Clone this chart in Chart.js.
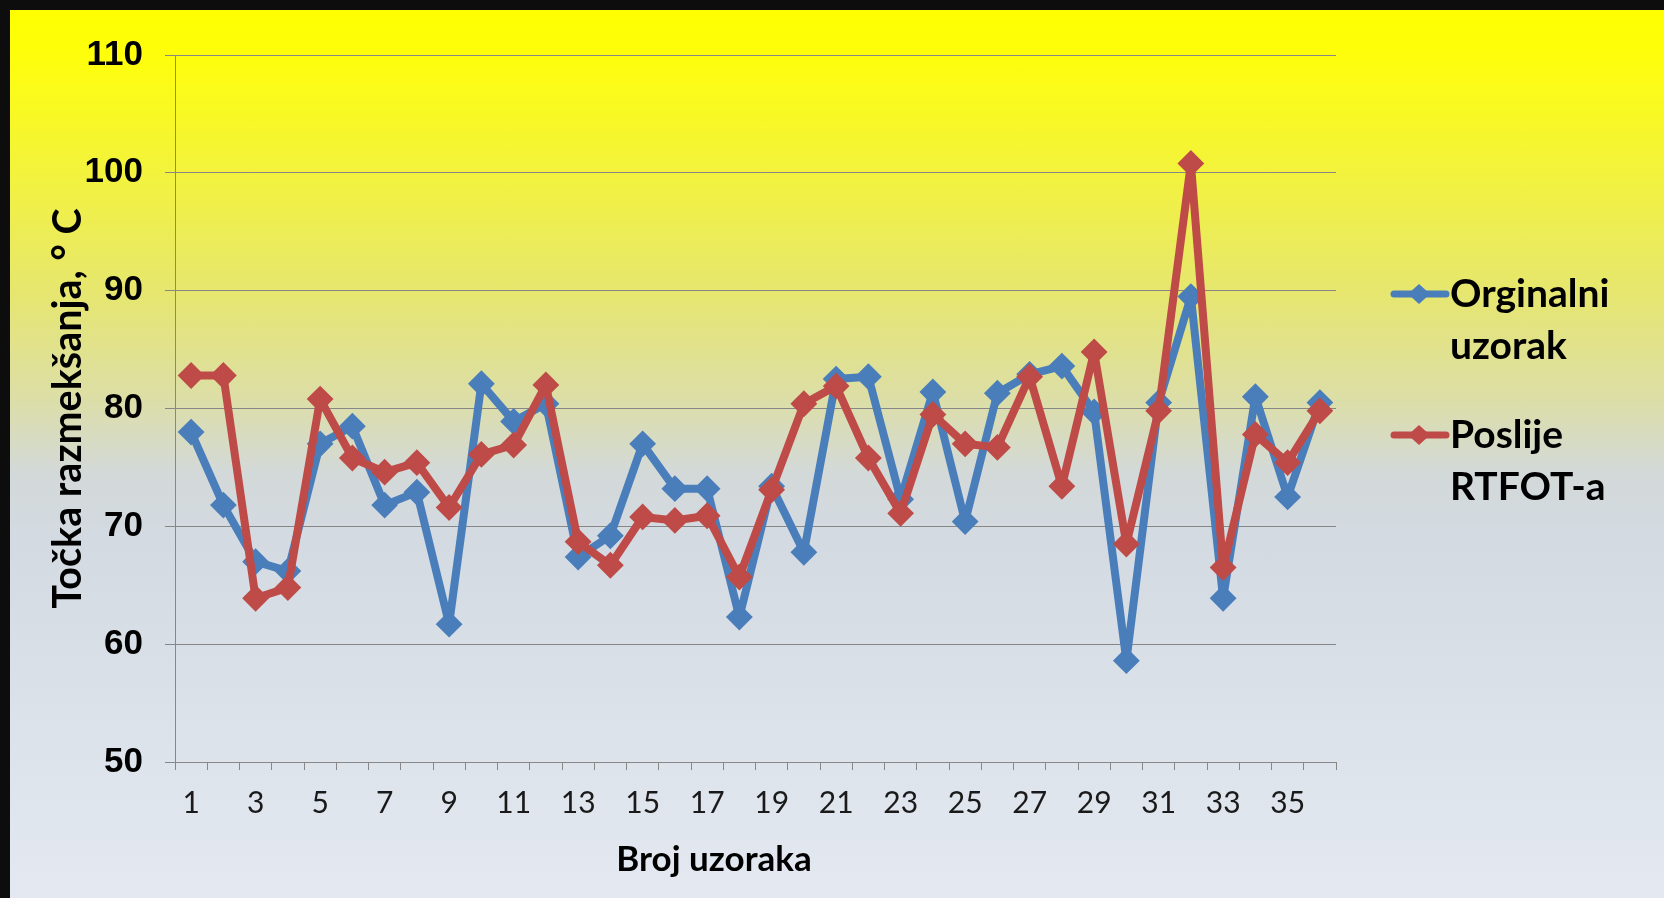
<!DOCTYPE html>
<html>
<head>
<meta charset="utf-8">
<script src="https://cdn.jsdelivr.net/npm/chart.js@4/dist/chart.umd.min.js"></script>
<style>
  html, body { margin: 0; padding: 0; background: #0d0d0d; width: 1664px; height: 898px; overflow: hidden; }
  #panel {
    position: absolute; left: 10px; top: 10px; width: 1654px; height: 888px;
    background: linear-gradient(to bottom,
      #ffff00 0%, #fefe0c 5%, #f3f33c 18%, #e6e670 32%, #dcdea8 44%,
      #d3d9d8 52%, #d3dae2 60%, #dce2ea 80%, #e4e9f1 100%);
  }
  #wrap { position: absolute; left: 0; top: 0; width: 1664px; height: 898px; }
</style>
</head>
<body>
<div id="panel"></div>
<div id="wrap"><canvas id="chart" width="1664" height="898"></canvas></div>
<script>
// Sample numbers 1..36
const categories = Array.from({ length: 36 }, (_, i) => String(i + 1));

// Softening point, °C
const orginalniUzorak = [
  78.0, 71.8, 67.0, 66.2, 77.0, 78.5, 71.8, 72.9, 61.7, 82.1,
  78.9, 80.4, 67.4, 69.2, 77.0, 73.2, 73.2, 62.3, 73.4, 67.8,
  82.5, 82.7, 72.3, 81.4, 70.4, 81.3, 82.9, 83.6, 79.7, 58.6,
  80.5, 89.5, 63.9, 81.0, 72.5, 80.5
];
const poslijeRtfot = [
  82.8, 82.8, 63.9, 64.8, 80.8, 75.8, 74.6, 75.4, 71.6, 76.1,
  76.9, 82.0, 68.7, 66.7, 70.8, 70.5, 70.9, 65.7, 73.1, 80.4,
  81.9, 75.8, 71.1, 79.5, 77.0, 76.7, 82.7, 73.4, 84.8, 68.5,
  79.8, 100.8, 66.5, 77.8, 75.4, 79.8
];

const seriesNames = [['Orginalni', 'uzorak'], ['Poslije', 'RTFOT-a']];
const yTicks = [50, 60, 70, 80, 90, 100, 110];

const BLUE = '#4a7ebb';
const RED = '#be4b48';
const GRID = '#878787';

// Two-line legend with line + diamond keys, placed right of the plot
const sideLegend = {
  id: 'sideLegend',
  afterDraw(chart) {
    const ctx = chart.ctx;
    const rows = [294, 435];
    chart.data.datasets.forEach((ds, i) => {
      const y = rows[i];
      ctx.save();
      ctx.strokeStyle = ds.borderColor;
      ctx.lineWidth = 7;
      ctx.lineCap = 'round';
      ctx.beginPath();
      ctx.moveTo(1394, y);
      ctx.lineTo(1446, y);
      ctx.stroke();
      ctx.fillStyle = ds.borderColor;
      ctx.beginPath();
      ctx.moveTo(1419, y - 10);
      ctx.lineTo(1430, y);
      ctx.lineTo(1419, y + 10);
      ctx.lineTo(1408, y);
      ctx.closePath();
      ctx.fill();
      ctx.fillStyle = '#000';
      ctx.font = 'bold 39px Lato';
      ctx.textAlign = 'left';
      ctx.textBaseline = 'middle';
      ds.label.forEach((line, k) => ctx.fillText(line, 1450, y + k * 52));
      ctx.restore();
    });
  }
};

// Horizontal axis caption
const xCaption = {
  id: 'xCaption',
  afterDraw(chart) {
    const ctx = chart.ctx;
    ctx.save();
    ctx.fillStyle = '#000';
    ctx.font = 'bold 35px Lato';
    ctx.textAlign = 'center';
    ctx.textBaseline = 'middle';
    ctx.fillText('Broj uzoraka', 714, 860);
    ctx.restore();
  }
};

new Chart(document.getElementById('chart'), {
  type: 'line',
  data: {
    labels: categories,
    datasets: [
      {
        label: seriesNames[0],
        data: orginalniUzorak,
        borderColor: BLUE,
        backgroundColor: BLUE,
        borderWidth: 8,
        borderJoinStyle: 'round',
        pointStyle: 'rectRot',
        pointRadius: 12,
        pointBorderWidth: 2,
        pointBackgroundColor: BLUE,
        pointBorderColor: BLUE,
        tension: 0,
        order: 1
      },
      {
        label: seriesNames[1],
        data: poslijeRtfot,
        borderColor: RED,
        backgroundColor: RED,
        borderWidth: 8,
        borderJoinStyle: 'round',
        pointStyle: 'rectRot',
        pointRadius: 12,
        pointBorderWidth: 2,
        pointBackgroundColor: RED,
        pointBorderColor: RED,
        tension: 0,
        order: 0
      }
    ]
  },
  options: {
    responsive: false,
    animation: false,
    devicePixelRatio: 1,
    layout: { padding: { top: 55, left: 0, right: 328, bottom: 0 } },
    plugins: {
      legend: { display: false },
      tooltip: { enabled: false }
    },
    scales: {
      x: {
        type: 'category',
        offset: true,
        grid: {
          offset: true,
          drawOnChartArea: false,
          drawTicks: true,
          tickLength: 8,
          color: GRID,
          lineWidth: 1
        },
        border: { color: GRID, width: 1 },
        ticks: {
          autoSkip: false,
          maxRotation: 0,
          padding: 15,
          color: '#1a1a1a',
          font: { family: 'Lato', size: 30 },
          callback: (v, i) => (i % 2 === 0 ? categories[i] : '')
        },
        afterFit(scale) { scale.height = 136; }
      },
      y: {
        min: 50,
        max: 110,
        afterBuildTicks(scale) { scale.ticks = yTicks.map(v => ({ value: v })); },
        grid: {
          color: GRID,
          lineWidth: 1,
          drawTicks: true,
          tickLength: 10
        },
        border: { color: GRID, width: 1 },
        ticks: {
          padding: 22,
          color: '#000',
          font: { family: 'Liberation Sans', size: 35, weight: 'bold' }
        },
        title: {
          display: true,
          text: 'Točka razmekšanja, ° C',
          color: '#000',
          font: { family: 'Lato', size: 39.5, weight: 'bold' },
          padding: { top: 45, bottom: 0 }
        },
        afterFit(scale) { scale.width = 175; }
      }
    }
  },
  plugins: [sideLegend, xCaption]
});
</script>
</body>
</html>
